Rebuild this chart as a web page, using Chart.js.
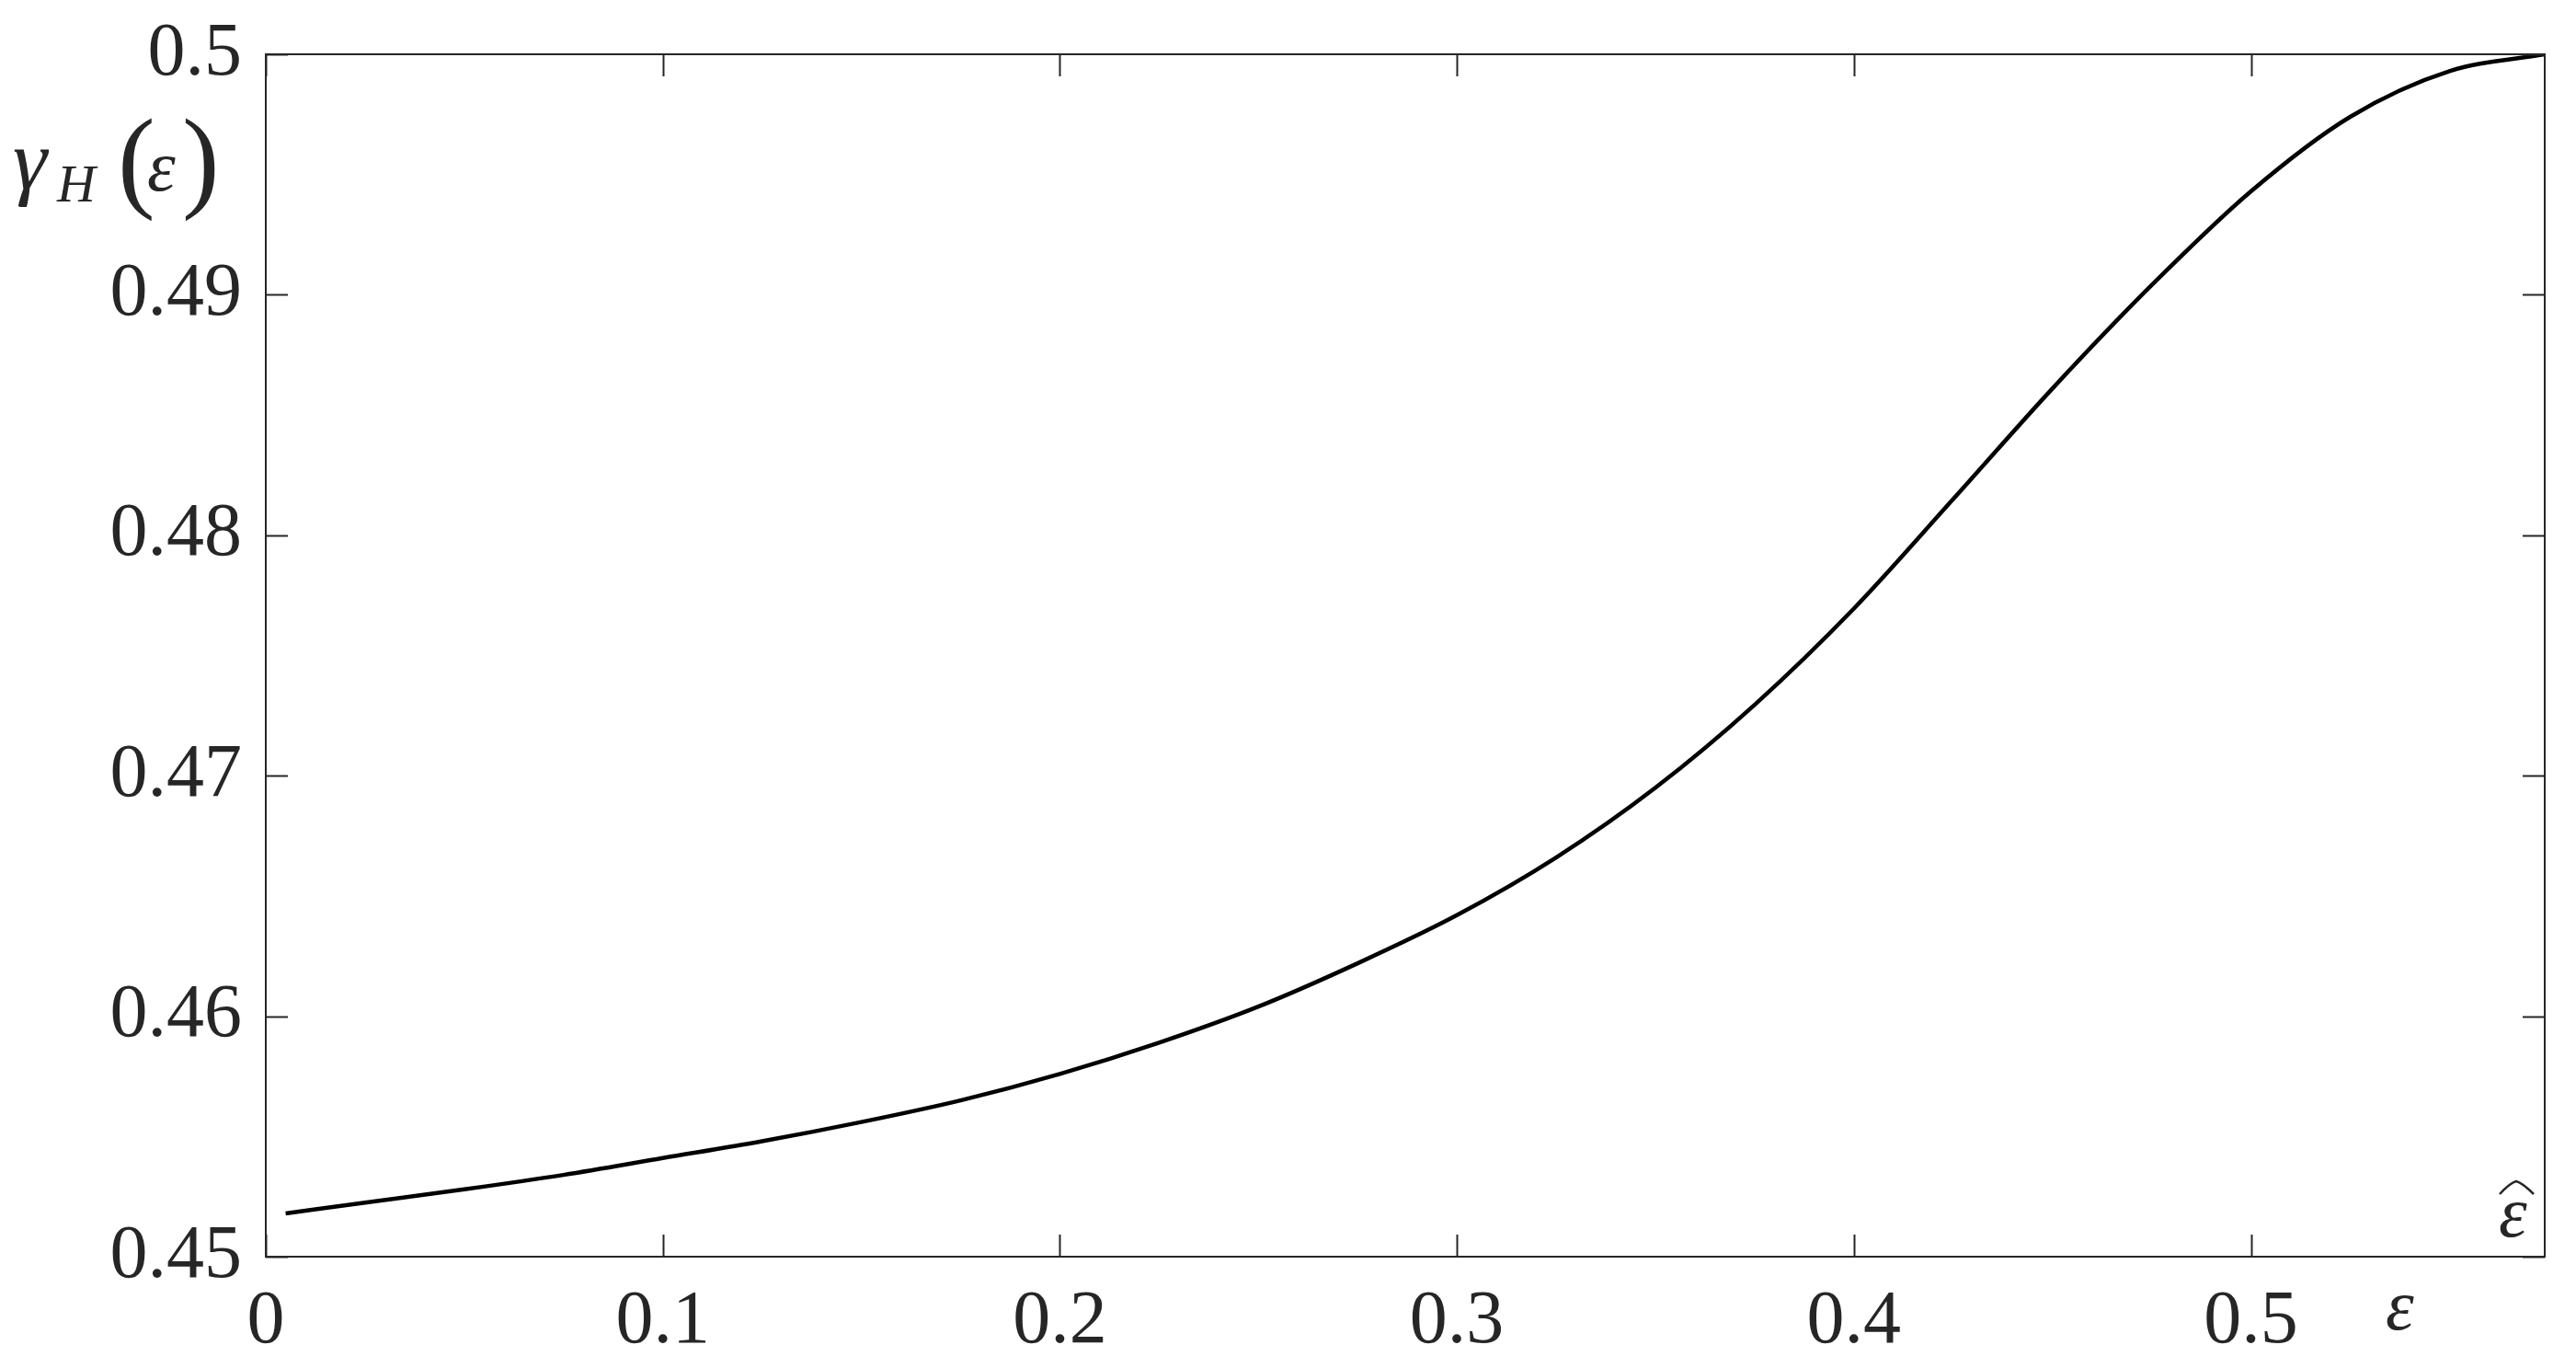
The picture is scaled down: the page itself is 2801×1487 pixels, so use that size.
<!DOCTYPE html>
<html>
<head>
<meta charset="utf-8">
<script src="https://cdn.jsdelivr.net/npm/chart.js@4"></script>
<style>
  html, body { margin: 0; padding: 0; background: #fff; }
  canvas { display: block; }
</style>
</head>
<body>
<canvas id="gammaChart" width="2801" height="1487"></canvas>
<script>
// values
const epsValues = [0.005, 0.025, 0.05, 0.075, 0.1, 0.125, 0.15, 0.175, 0.2, 0.225, 0.25, 0.275,
  0.3, 0.325, 0.35, 0.375, 0.4, 0.425, 0.45, 0.475, 0.5, 0.525, 0.55, 0.574];
const gammaValues = [0.4518, 0.45225, 0.4528, 0.4534, 0.4541, 0.4548, 0.4556, 0.4565, 0.4576, 0.4589, 0.4604, 0.4622,
  0.4642, 0.4666, 0.4695, 0.47295, 0.47695, 0.4815, 0.4861, 0.4904, 0.4943, 0.4974, 0.4993, 0.5000];
const xTicks = [0, 0.1, 0.2, 0.3, 0.4, 0.5];
const xTickLabels = ['0', '0.1', '0.2', '0.3', '0.4', '0.5'];
const yTicks = [0.45, 0.46, 0.47, 0.48, 0.49, 0.5];
const yTickLabels = ['0.45', '0.46', '0.47', '0.48', '0.49', '0.5'];
const epsHat = 0.574;

const serif = "'Liberation Serif', 'DejaVu Serif', serif";
const inkColor = '#262626';

const boxPlugin = {
  id: 'box',
  afterDraw(chart) {
    const ctx = chart.ctx;
    const a = chart.chartArea;
    const xs = chart.scales.x, ys = chart.scales.y;
    const tl = 24;
    ctx.save();
    ctx.strokeStyle = inkColor;
    ctx.lineWidth = 2;
    ctx.strokeRect(a.left, a.top, a.right - a.left, a.bottom - a.top);
    ctx.beginPath();
    xTicks.forEach(v => {
      const px = Math.round(xs.getPixelForValue(v)) + 0.5;
      ctx.moveTo(px, a.bottom); ctx.lineTo(px, a.bottom - tl);
      ctx.moveTo(px, a.top); ctx.lineTo(px, a.top + tl);
    });
    yTicks.forEach(v => {
      const py = Math.round(ys.getPixelForValue(v)) + 0.5;
      ctx.moveTo(a.left, py); ctx.lineTo(a.left + tl, py);
      ctx.moveTo(a.right, py); ctx.lineTo(a.right - tl, py);
    });
    ctx.stroke();

    // y label: gamma_H(eps)
    ctx.fillStyle = inkColor;
    ctx.textBaseline = 'alphabetic';
    ctx.textAlign = 'left';
    ctx.font = 'italic 94px ' + serif;
    ctx.fillText('γ', 14, 205);
    ctx.font = 'italic 58px ' + serif;
    ctx.fillText('H', 62, 219);
    ctx.font = '122px ' + serif;
    ctx.fillText('(', 128, 214);
    ctx.fillText(')', 198, 214);
    ctx.font = 'italic 78px ' + serif;
    ctx.fillText('ε', 160, 207);

    // x label
    ctx.fillText('ε', 2594, 1445);

    // eps hat at right end of the axis
    const hx = xs.getPixelForValue(epsHat) - 50;
    ctx.fillText('ε', hx, a.bottom - 22);
    ctx.lineWidth = 2.5;
    ctx.beginPath();
    ctx.moveTo(hx + 1, a.bottom - 68);
    ctx.quadraticCurveTo(hx + 12, a.bottom - 80, hx + 19, a.bottom - 82);
    ctx.quadraticCurveTo(hx + 26, a.bottom - 80, hx + 38, a.bottom - 68);
    ctx.stroke();
    ctx.restore();
  }
};

new Chart(document.getElementById('gammaChart'), {
  type: 'line',
  data: {
    datasets: [{
      data: epsValues.map((e, i) => ({ x: e, y: gammaValues[i] })),
      borderColor: '#000',
      borderWidth: 4.5,
      pointRadius: 0,
      cubicInterpolationMode: 'monotone',
      fill: false
    }]
  },
  options: {
    responsive: false,
    devicePixelRatio: 1,
    animation: false,
    events: [],
    layout: { padding: { left: 0, top: 59, right: 34, bottom: 0 } },
    plugins: { legend: { display: false }, tooltip: { enabled: false } },
    scales: {
      x: {
        type: 'linear',
        min: 0,
        max: epsHat,
        afterBuildTicks: s => { s.ticks = xTicks.map(v => ({ value: v })); },
        afterFit: s => { s.height = 121; s.paddingLeft = 0; s.paddingRight = 0; },
        grid: { display: false, drawTicks: false },
        border: { display: false },
        ticks: {
          padding: 22,
          maxRotation: 0,
          autoSkip: false,
          color: inkColor,
          font: { family: serif, size: 82 },
          callback: (v, i) => xTickLabels[i]
        }
      },
      y: {
        type: 'linear',
        min: 0.45,
        max: 0.5,
        afterBuildTicks: s => { s.ticks = yTicks.map(v => ({ value: v })); },
        afterFit: s => { s.width = 289; s.paddingTop = 0; s.paddingBottom = 0; },
        grid: { display: false, drawTicks: false },
        border: { display: false },
        ticks: {
          padding: 26,
          autoSkip: false,
          color: inkColor,
          font: { family: serif, size: 82 },
          callback: (v, i) => yTickLabels[i]
        }
      }
    }
  },
  plugins: [boxPlugin]
});
</script>
</body>
</html>
